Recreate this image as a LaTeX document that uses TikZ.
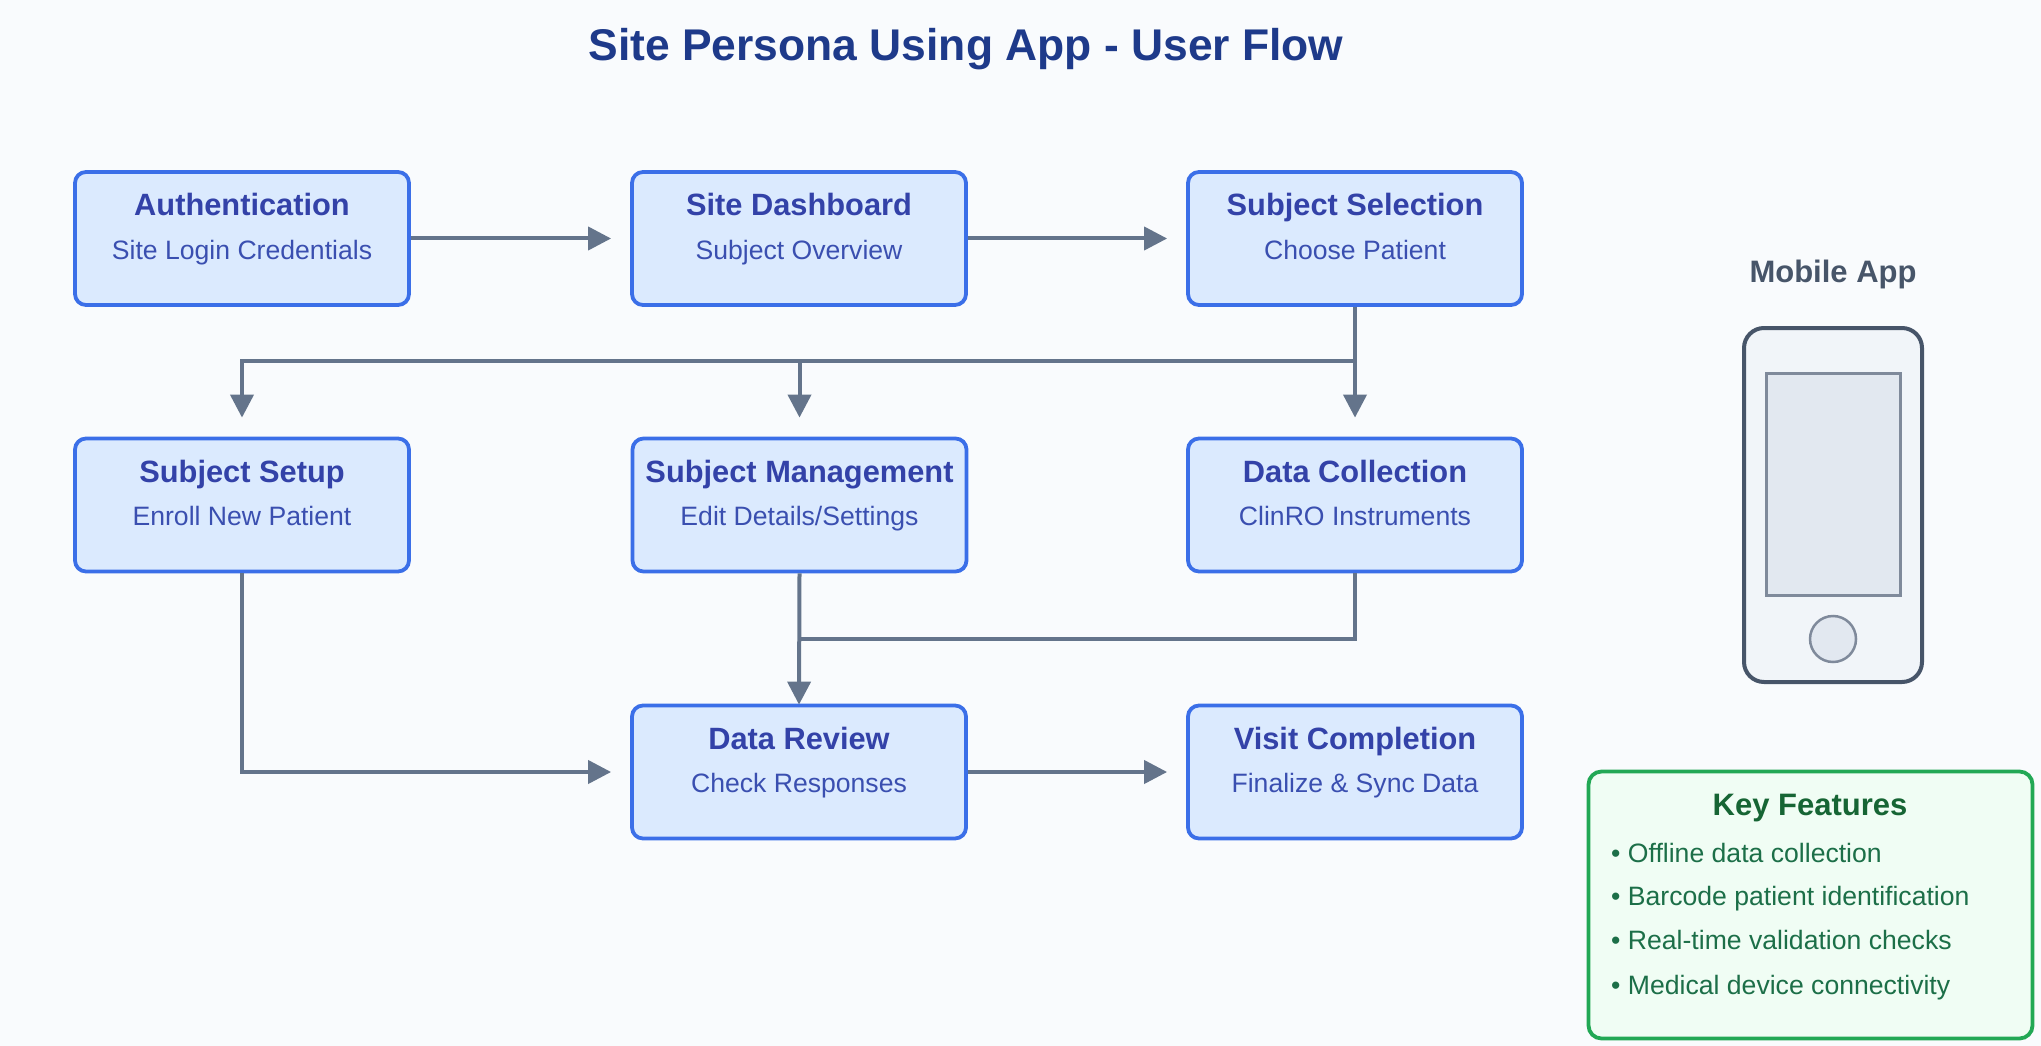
\documentclass[tikz,border=0pt]{standalone}
\usepackage{fontspec}
\setmainfont{Liberation Sans}
\usetikzlibrary{arrows.meta}
\definecolor{bgc}{HTML}{F9FBFD}
\definecolor{boxfill}{HTML}{DBEAFE}
\definecolor{boxline}{HTML}{3B6FE8}
\definecolor{titlec}{HTML}{1E3A8A}
\definecolor{headc}{HTML}{3342A8}
\definecolor{subc}{HTML}{3A4FB0}
\definecolor{linkc}{HTML}{64748B}
\definecolor{phonefill}{HTML}{F1F5F9}
\definecolor{phoneline}{HTML}{475569}
\definecolor{screenfill}{HTML}{E2E8F0}
\definecolor{screenline}{HTML}{7F8A9B}
\definecolor{keyfill}{HTML}{F0FDF4}
\definecolor{keyline}{HTML}{22A855}
\definecolor{keyhead}{HTML}{166534}
\definecolor{keytext}{HTML}{1C6F48}
\tikzset{
  x=1pt,y=-1pt,
  flowbox/.style={draw=boxline,fill=boxfill,line width=3.8pt,rounded corners=11pt,minimum width=334pt,minimum height=133pt,inner sep=0pt},
  headtxt/.style={text=headc,font=\fontsize{30.8}{34}\selectfont\bfseries,inner sep=0pt,anchor=base},
  subtxt/.style={text=subc,font=\fontsize{26.6}{30}\selectfont,inner sep=0pt,anchor=base},
  link/.style={draw=linkc,line width=4pt},
  tiplink/.style={link,-{Triangle[length=23pt,width=23pt]},shorten >=19pt},
  keyitem/.style={text=keytext,font=\fontsize{26.6}{30}\selectfont,inner sep=0pt,anchor=base west},
}
\newcommand{\flownode}[5]{%
  \node[flowbox] (#1) at (#2,#3) {};
  \node[headtxt] (#1h) at (#2,#3-22.5) {#4};
  \node[subtxt] (#1s) at (#2,#3+20.5) {#5};
}
\begin{document}
\begin{tikzpicture}
\useasboundingbox (0,0) rectangle (2041,1045.5);
\fill[bgc] (0,0) rectangle (2041,1047);
\node[text=titlec,font=\fontsize{44.4}{48}\selectfont\bfseries,inner sep=0pt,anchor=base] (title) at (966,61) {Site Persona Using App - User Flow};

\flownode{auth}{242}{238.5}{Authentication}{Site Login Credentials}
\flownode{dash}{799}{238.5}{Site Dashboard}{Subject Overview}
\flownode{sel}{1355}{238.5}{Subject Selection}{Choose Patient}
\flownode{setup}{242}{505}{Subject Setup}{Enroll New Patient}
\flownode{mgmt}{799.5}{505}{Subject Management}{Edit Details/Settings}
\flownode{coll}{1355}{505}{Data Collection}{ClinRO Instruments}
\flownode{rev}{799}{772}{Data Review}{Check Responses}
\flownode{visit}{1355}{772}{Visit Completion}{Finalize \& Sync Data}

\coordinate (bus) at (1355,361);
\coordinate (join) at (799,639);
\draw[tiplink] (auth.east) -- (dash.west);
\draw[tiplink] (dash.east) -- (sel.west);
\draw[link] (sel.south) -- (bus);
\draw[tiplink] (bus) -- (coll.north);
\draw[tiplink] (bus) -| (mgmt.north);
\draw[tiplink] (bus) -| (setup.north);
\draw[tiplink] (setup.south) |- (rev.west);
\draw[tiplink,shorten >=-1pt] (mgmt.south) -- (rev.north);
\draw[link] (coll.south) |- (join);
\draw[tiplink] (rev.east) -- (visit.west);

\node[text=phoneline,font=\fontsize{31}{34}\selectfont\bfseries,inner sep=0pt,anchor=base] (applabel) at (1833,283) {Mobile App};
\node[draw=phoneline,fill=phonefill,line width=4pt,rounded corners=20pt,minimum width=178pt,minimum height=354pt,inner sep=0pt] (phone) at (1833,505) {};
\node[draw=screenline,fill=screenfill,line width=3pt,minimum width=134pt,minimum height=222pt,inner sep=0pt] (screen) at (1833,484) {};
\node[draw=screenline,fill=screenfill,line width=2.5pt,circle,minimum size=46pt,inner sep=0pt] (homebtn) at (1833,639) {};

\node[draw=keyline,fill=keyfill,line width=3.8pt,rounded corners=13pt,minimum width=444pt,minimum height=267pt,inner sep=0pt] (keybox) at (1810.5,905) {};
\node[text=keyhead,font=\fontsize{31}{34}\selectfont\bfseries,inner sep=0pt,anchor=base] (keyheadtxt) at (1810,815) {Key Features};
\node[keyitem] (k1) at (1611,862) {• Offline data collection};
\node[keyitem] (k2) at (1611,905) {• Barcode patient identification};
\node[keyitem] (k3) at (1611,949) {• Real-time validation checks};
\node[keyitem] (k4) at (1611,994) {• Medical device connectivity};
\end{tikzpicture}
\end{document}
